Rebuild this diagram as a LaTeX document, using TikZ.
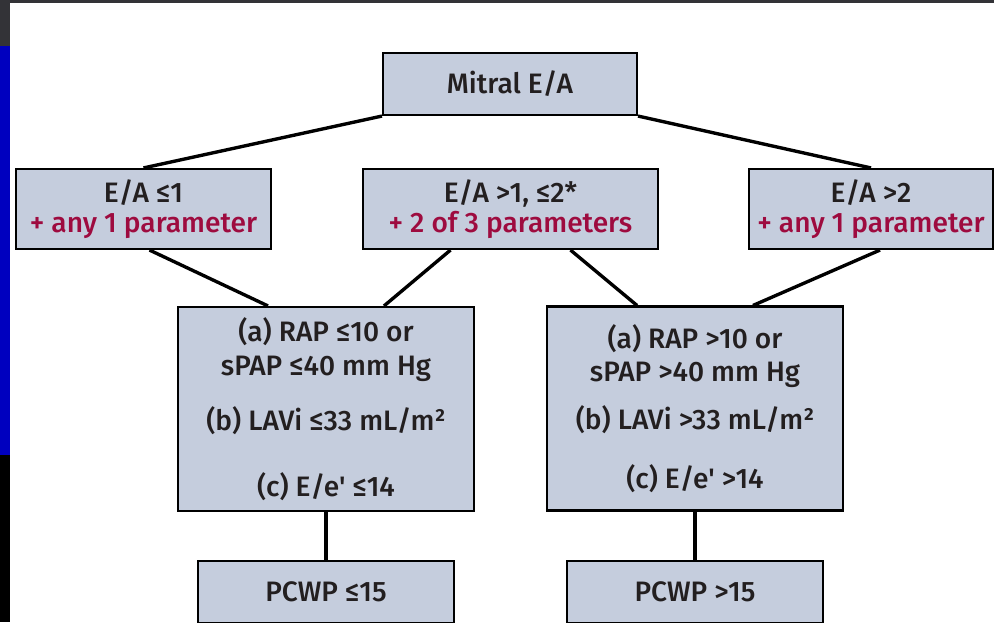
\documentclass[tikz,border=0pt]{standalone}
\usepackage{fontspec}
\setmainfont{Fira Sans Medium}[Ligatures=TeXOff]
\usepackage{tikz}
\usetikzlibrary{positioning, calc}
\definecolor{boxfill}{HTML}{C5CDDD}
\definecolor{textdark}{HTML}{231F20}
\definecolor{crimson}{HTML}{9E0B3F}

\begin{document}
\begin{tikzpicture}[
    node distance = 1.2cm,
    block/.style = {rectangle, draw=black, line width=1.5pt, fill=boxfill, text=textdark, align=center, inner sep=0pt, font=\fontsize{20}{24}\selectfont},
    link/.style = {line width=2.4pt, black}
]
    % page and screen edges
    \useasboundingbox (0,0) rectangle (24.85,15.55);
    \fill[white] (0,0) rectangle (24.85,15.55);
    \fill[black!90!cyan] (0,15.47) rectangle (24.85,15.55);
    \fill[black!90!cyan] (0,14.4) rectangle (0.25,15.55);
    \fill[blue!75!black] (0,4.18) rectangle (0.25,14.4);
    \fill[black] (0,0) rectangle (0.25,4.18);

    % root
    \node[block, minimum width=6.35cm, minimum height=1.55cm] (mitral) at (12.75,13.45) {Mitral E/A};

    % E/A ranges
    \node[block, minimum width=6.375cm, minimum height=2cm] (ratioLow) at (3.5875,10.325)
        {E/A ≤1\\[-3pt]\textcolor{crimson}{+ any 1 parameter}};
    \node[block, minimum width=7.375cm, minimum height=2cm] (ratioMid) at (12.7625,10.325)
        {E/A >1, ≤2*\\[-3pt]\textcolor{crimson}{+ 2 of 3 parameters}};
    \node[block, minimum width=6.1cm, minimum height=2cm] (ratioHigh) at (21.775,10.325)
        {E/A >2\\[-3pt]\textcolor{crimson}{+ any 1 parameter}};

    % parameter sets
    \node[block, minimum width=7.4cm, minimum height=5.1cm] (paramLow) at (8.15,5.325)
        {(a) RAP ≤10 or\\sPAP ≤40 mm Hg\\[15pt](b) LAVi ≤33 mL/m²\\[23pt](c) E/e' ≤14};
    \node[block, minimum width=7.4cm, minimum height=5.1cm] (paramHigh) at (17.375,5.3375)
        {(a) RAP >10 or\\sPAP >40 mm Hg\\[10pt](b) LAVi >33 mL/m²\\[18pt](c) E/e' >14};

    % outcomes
    \node[block, minimum width=6.4cm, minimum height=1.55cm, below=of paramLow] (pcwpLow) {PCWP ≤15};
    \node[block, minimum width=6.4cm, minimum height=1.55cm, below=of paramHigh] (pcwpHigh) {PCWP >15};

    % connectors
    \draw[link] (mitral.south west) -- (ratioLow.north);
    \draw[link] (mitral.south east) -- (ratioHigh.north);
    \draw[link] ($(ratioLow.south)+(0.15,0)$) -- ($(paramLow.north)+(-1.45,0)$);
    \draw[link] ($(ratioMid.south)+(-1.5,0)$) -- ($(paramLow.north)+(1.45,0)$);
    \draw[link] ($(ratioMid.south)+(1.5,0)$) -- ($(paramHigh.north)+(-1.45,0)$);
    \draw[link] ($(ratioHigh.south)+(0.225,0)$) -- ($(paramHigh.north)+(1.45,0)$);
    \draw[link] (paramLow) -- (pcwpLow);
    \draw[link] (paramHigh) -- (pcwpHigh);
\end{tikzpicture}
\end{document}
